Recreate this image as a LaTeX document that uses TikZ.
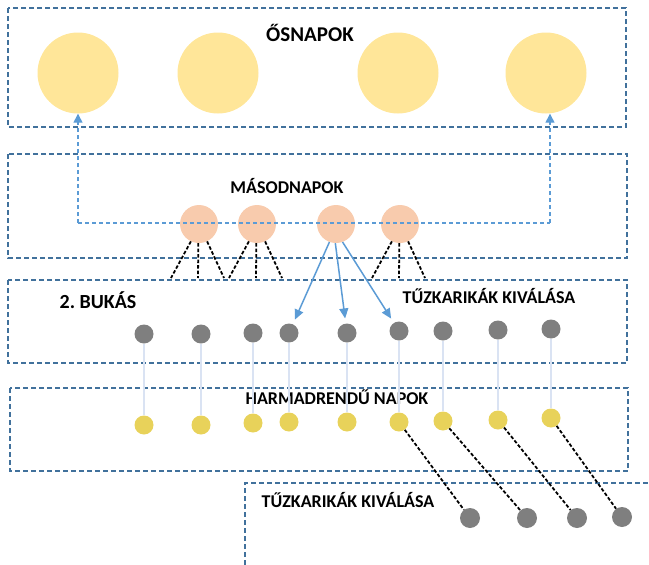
\documentclass[tikz,border=0pt]{standalone}
\usepackage{fontspec}
\setmainfont{Carlito}
\usetikzlibrary{arrows.meta}
\definecolor{sunY}{HTML}{FFE699}
\definecolor{sunO}{HTML}{F8CBAD}
\definecolor{dotG}{HTML}{7F7F7F}
\definecolor{dotY}{HTML}{E8D25A}
\definecolor{boxB}{HTML}{41719C}
\definecolor{arrB}{HTML}{5B9BD5}
\definecolor{lineB}{HTML}{DAE3F3}

\begin{document}
\begin{tikzpicture}[x=1pt,y=-1pt,
  bigsun/.style={circle,fill=sunY,minimum size=81pt,inner sep=0pt},
  midsun/.style={circle,fill=sunO,minimum size=38pt,inner sep=0pt},
  gdot/.style={circle,fill=dotG,minimum size=19pt,inner sep=0pt},
  ydot/.style={circle,fill=dotY,minimum size=19pt,inner sep=0pt},
  lbl/.style={anchor=base,font=\bfseries\fontsize{18}{18}\selectfont,inner sep=0pt},
  frame/.style={boxB,line width=1.5pt,dash pattern=on 5pt off 3pt},
  loopline/.style={arrB,line width=1.3pt,dash pattern=on 4pt off 3pt,-{Triangle[length=9pt,width=9pt]}},
  fall/.style={arrB,line width=1.5pt,-{Triangle[length=10pt,width=9pt]},shorten >=5pt},
  fan/.style={black,line width=1.8pt,dash pattern=on 3.5pt off 2pt},
  drop/.style={lineB,line width=2pt}]
\useasboundingbox (0,0) rectangle (649,565);

\draw[frame] (8,8) rectangle (626,127);
\draw[frame] (8,154) rectangle (627,258);
\draw[frame] (8,280) rectangle (627,363);
\draw[frame] (10,388) rectangle (628,471);
\draw[frame] (245,565) -- (245,483) -- (649,483);

\node[lbl,font=\bfseries\fontsize{21}{21}\selectfont] (t1) at (310,41) {ŐSNAPOK};
\node[lbl] (t2) at (287,193) {MÁSODNAPOK};
\node[lbl,font=\bfseries\fontsize{20}{20}\selectfont] (t3) at (98,308) {2.\ BUKÁS};
\node[lbl] (t4) at (489,303) {TŰZKARIKÁK KIVÁLÁSA};
\node[lbl] (t5) at (337,404) {HARMADRENDŰ NAPOK};
\node[lbl] (t6) at (348,507) {TŰZKARIKÁK KIVÁLÁSA};

\node[bigsun] (11) at (78,73) {};
\node[bigsun] (12) at (218,73) {};
\node[bigsun] (13) at (398,73) {};
\node[bigsun] (14) at (546,73) {};

\node[midsun] (21) at (199,224) {};
\node[midsun] (22) at (257,224) {};
\node[midsun] (23) at (336,224) {};
\node[midsun] (24) at (400,224) {};

\node[gdot] (31) at (144,334) {};
\node[gdot] (32) at (201,334) {};
\node[gdot] (33) at (253,333) {};
\node[gdot] (34) at (289,333) {};
\node[gdot] (35) at (347,333) {};
\node[gdot] (36) at (399,331) {};
\node[gdot] (37) at (443,331) {};
\node[gdot] (38) at (498,330) {};
\node[gdot] (39) at (551,329) {};

\node[ydot] (41) at (144,425) {};
\node[ydot] (42) at (201,425) {};
\node[ydot] (43) at (253,423) {};
\node[ydot] (44) at (289,422) {};
\node[ydot] (45) at (347,422) {};
\node[ydot] (46) at (399,422) {};
\node[ydot] (47) at (443,421) {};
\node[ydot] (48) at (498,420) {};
\node[ydot] (49) at (551,418) {};

\node[gdot,minimum size=20pt] (51) at (470,518) {};
\node[gdot,minimum size=20pt] (52) at (527,518) {};
\node[gdot,minimum size=20pt] (53) at (577,518) {};
\node[gdot,minimum size=20pt] (54) at (622,517) {};

\coordinate (c1) at (78,223);
\coordinate (c2) at (550,223);
\draw[loopline,-] (c1) -- (c2);
\draw[loopline] (c1) -- (11);
\draw[loopline] (c2) -- (c2 |- 14.south);

\foreach \n in {21,22,24} {
  \path (\n) ++(-28,54) coordinate (\n a) (\n) ++(-1,54) coordinate (\n b) (\n) ++(25,54) coordinate (\n c);
  \draw[fan] (\n.245) -- (\n a) (\n.268) -- (\n b) (\n.295) -- (\n c);
}

\draw[fall] (23.250) -- (34);
\draw[fall] (23.268) -- (35);
\draw[fall] (23.290) -- (36);

\foreach \i in {1,...,9}
  \draw[drop] (3\i) -- (4\i);

\draw[fan] (46) -- (51) (47) -- (52) (48) -- (53) (49) -- (54);
\end{tikzpicture}
\end{document}
